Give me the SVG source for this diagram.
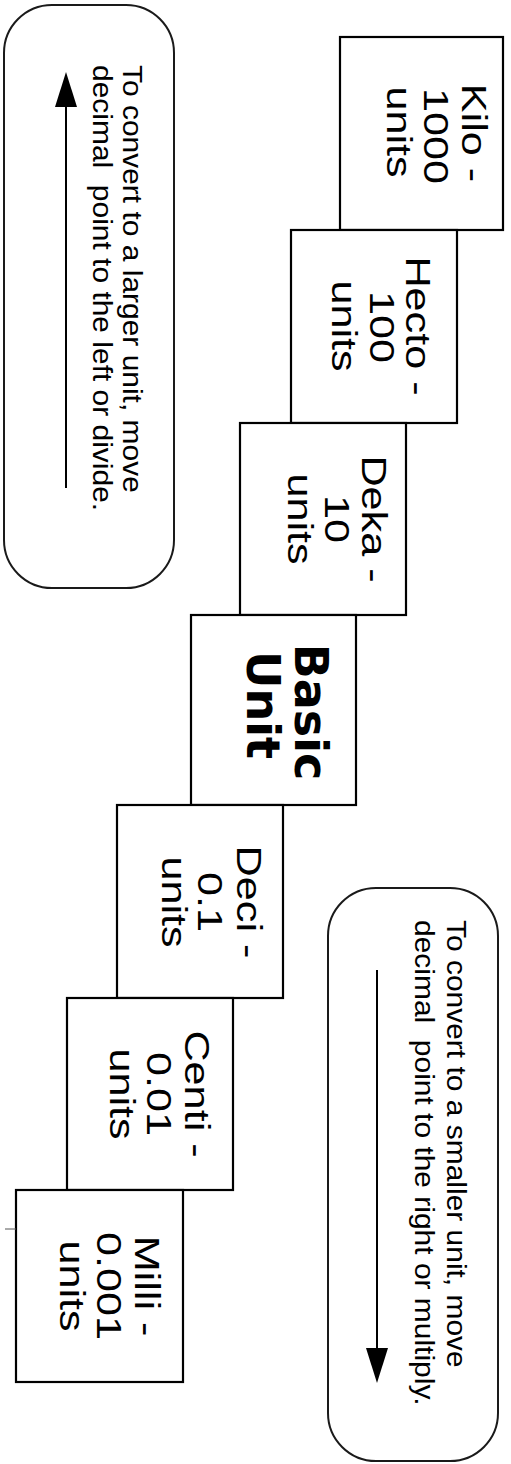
<svg xmlns="http://www.w3.org/2000/svg" width="511" height="1464" viewBox="0 0 511 1464">
<style>
.box{fill:#fff;stroke:#000;stroke-width:2.2}
.note{fill:#fff;stroke:#1a1a1a;stroke-width:2}
.u{font-family:"Liberation Sans",Arial,sans-serif;font-size:36px;fill:#000;text-anchor:middle}
.b{font-family:"DejaVu Sans",Verdana,sans-serif;font-size:46px;font-weight:bold;fill:#000;text-anchor:middle}
.n{font-family:"Liberation Sans",Arial,sans-serif;font-size:28px;fill:#000}
.arr{stroke:#000;stroke-width:2;fill:none}
</style>
<defs>
<marker id="ah" markerUnits="userSpaceOnUse" markerWidth="36" markerHeight="24" viewBox="0 0 36 24" refX="25" refY="11" orient="auto">
<path d="M0,0 L35,11 L0,22 Z" fill="#000"/>
</marker>
</defs>
<rect width="511" height="1464" fill="#fff"/>
<g id="note-larger">
<rect class="note" x="4" y="5" width="170" height="583" rx="48" ry="48"/>
<text class="n" xml:space="preserve" transform="translate(123,65) rotate(90) scale(1.07,1)">To convert to a larger unit, move</text>
<text class="n" xml:space="preserve" transform="translate(93,65) rotate(90) scale(1.07,1)">decimal  point to the left or divide.</text>
</g>
<g id="note-smaller">
<rect class="note" x="328" y="888" width="170" height="573" rx="48" ry="48"/>
<text class="n" xml:space="preserve" transform="translate(447,920) rotate(90) scale(1.07,1)">To convert to a smaller unit, move</text>
<text class="n" xml:space="preserve" transform="translate(415,920) rotate(90) scale(1.07,1)">decimal  point to the right or multiply.</text>
</g>
<g id="kilo">
<rect class="box" x="340" y="37" width="163" height="193"/>
<text class="u" transform="translate(462,133) rotate(90) scale(1.2,1)">Kilo -</text>
<text class="u" transform="translate(424,136) rotate(90) scale(1.2,1)">1000</text>
<text class="u" transform="translate(387,132) rotate(90) scale(1.2,1)">units</text>
</g>
<g id="hecto">
<rect class="box" x="291" y="230" width="166" height="193"/>
<text class="u" transform="translate(406,326) rotate(90) scale(1.2,1)">Hecto -</text>
<text class="u" transform="translate(370,327) rotate(90) scale(1.2,1)">100</text>
<text class="u" transform="translate(332,326) rotate(90) scale(1.2,1)">units</text>
</g>
<g id="deka">
<rect class="box" x="240" y="423" width="166" height="192"/>
<text class="u" transform="translate(362,519) rotate(90) scale(1.2,1)">Deka -</text>
<text class="u" transform="translate(325,519) rotate(90) scale(1.2,1)">10</text>
<text class="u" transform="translate(288,519) rotate(90) scale(1.2,1)">units</text>
</g>
<g id="basic">
<rect class="box" x="191" y="615" width="165" height="190"/>
<text class="b" transform="translate(295,712) rotate(90)">Basic</text>
<text class="b" transform="translate(247,705) rotate(90)">Unit</text>
</g>
<g id="deci">
<rect class="box" x="117" y="805" width="166" height="193"/>
<text class="u" transform="translate(237,902) rotate(90) scale(1.2,1)">Deci -</text>
<text class="u" transform="translate(198,902) rotate(90) scale(1.2,1)">0.1</text>
<text class="u" transform="translate(162,902) rotate(90) scale(1.2,1)">units</text>
</g>
<g id="centi">
<rect class="box" x="67" y="998" width="166" height="192"/>
<text class="u" transform="translate(185,1094) rotate(90) scale(1.2,1)">Centi -</text>
<text class="u" transform="translate(147,1094) rotate(90) scale(1.2,1)">0.01</text>
<text class="u" transform="translate(110,1094) rotate(90) scale(1.2,1)">units</text>
</g>
<g id="milli">
<rect class="box" x="16" y="1190" width="167" height="192"/>
<text class="u" transform="translate(135,1286) rotate(90) scale(1.2,1)">Milli -</text>
<text class="u" transform="translate(97,1286) rotate(90) scale(1.2,1)">0.001</text>
<text class="u" transform="translate(60,1286) rotate(90) scale(1.2,1)">units</text>
</g>
<g id="connectors">
<line class="arr" x1="66" y1="488" x2="66" y2="82" marker-end="url(#ah)"/>
<line class="arr" x1="377" y1="970" x2="377" y2="1373" marker-end="url(#ah)"/>
<line x1="5" y1="1229" x2="16" y2="1229" stroke="#555" stroke-width="1"/>
</g>
</svg>
